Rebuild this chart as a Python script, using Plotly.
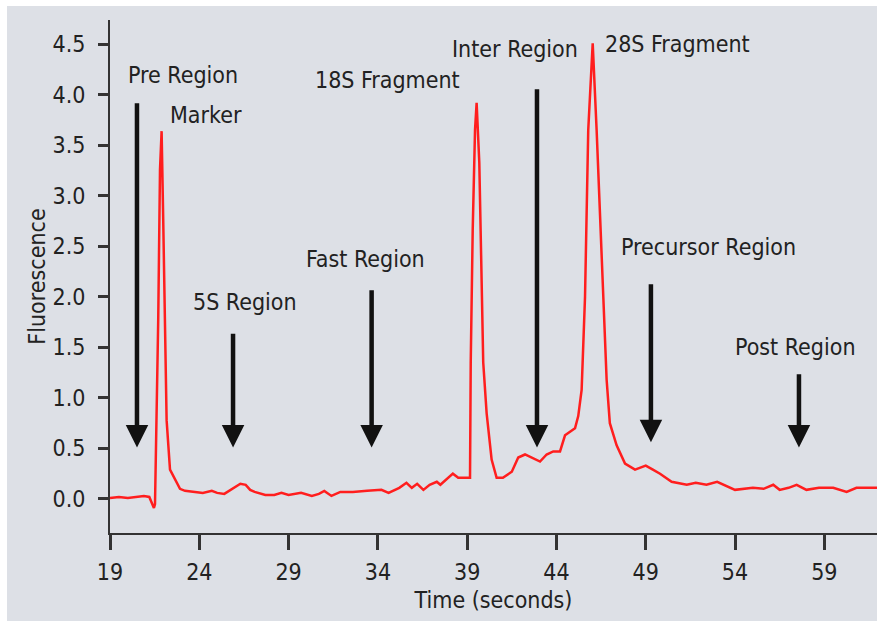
import plotly.graph_objects as go

# ---- data ----
time_s = [19.0, 19.5, 20.0, 20.5, 20.9, 21.2, 21.46, 21.52, 21.7, 21.8, 21.89, 21.98, 22.08, 22.17,
          22.36, 22.64, 22.92, 23.2, 23.7, 24.2, 24.7, 25.0, 25.4, 25.9, 26.3, 26.6, 26.85, 27.1,
          27.7, 28.2, 28.6, 29.0, 29.7, 30.3, 30.7, 31.0, 31.4, 31.9, 32.6, 33.4, 34.2, 34.6,
          35.2, 35.6, 35.9, 36.2, 36.55, 36.9, 37.3, 37.5, 37.85, 38.2, 38.5, 39.16, 39.2, 39.31,
          39.44, 39.53, 39.68, 39.81, 39.9, 40.09, 40.37, 40.65, 41.0, 41.5, 41.86, 42.24, 42.6,
          43.08, 43.45, 43.82, 44.2, 44.48, 45.04, 45.22, 45.41, 45.6, 45.78, 46.03, 46.25, 46.53,
          46.81, 46.99, 47.37, 47.84, 48.4, 48.7, 49.0, 49.4, 49.8, 50.45, 51.3, 51.8, 52.4, 53.0,
          53.5, 54.0, 55.0, 55.6, 56.14, 56.5, 57.0, 57.45, 58.0, 58.7, 59.5, 60.25, 60.8, 61.95]
fluorescence = [0.01, 0.02, 0.01, 0.02, 0.03, 0.02, -0.09, -0.05, 1.77, 3.26, 3.64, 2.76, 1.45, 0.78,
                0.29, 0.19, 0.10, 0.08, 0.07, 0.06, 0.08, 0.06, 0.05, 0.11, 0.15, 0.14, 0.09, 0.07,
                0.04, 0.04, 0.06, 0.04, 0.06, 0.03, 0.05, 0.08, 0.03, 0.07, 0.07, 0.08, 0.09, 0.06,
                0.11, 0.16, 0.11, 0.15, 0.09, 0.14, 0.17, 0.14, 0.20, 0.25, 0.21, 0.21, 1.35, 2.66,
                3.65, 3.92, 3.33, 2.34, 1.35, 0.85, 0.39, 0.21, 0.21, 0.27, 0.41, 0.44, 0.41,
                0.37, 0.44, 0.47, 0.47, 0.63, 0.70, 0.82, 1.08, 2.0, 3.65, 4.51, 3.65, 2.34,
                1.18, 0.75, 0.53, 0.35, 0.29, 0.31, 0.33, 0.29, 0.25, 0.17, 0.14, 0.16, 0.14, 0.17,
                0.13, 0.09, 0.11, 0.10, 0.14, 0.09, 0.11, 0.14, 0.09, 0.11, 0.11, 0.07, 0.11, 0.11]

x_ticks = [19, 24, 29, 34, 39, 44, 49, 54, 59]
y_ticks = [0.0, 0.5, 1.0, 1.5, 2.0, 2.5, 3.0, 3.5, 4.0, 4.5]

label_text = ["Pre Region", "Marker", "5S Region", "Fast Region", "18S Fragment",
              "Inter Region", "28S Fragment", "Precursor Region", "Post Region"]
label_x = [23.09, 24.38, 26.56, 33.28, 34.54, 41.68, 50.78, 52.54, 57.41]
label_y = [4.20, 3.80, 1.95, 2.37, 4.15, 4.45, 4.50, 2.49, 1.50]

arrow_x = [20.51, 25.89, 33.65, 42.91, 49.29, 57.58]
arrow_tail_y = [3.93, 1.65, 2.08, 4.07, 2.14, 1.25]
arrow_tip_y = [0.51, 0.51, 0.51, 0.51, 0.56, 0.51]

FONT = "Liberation Sans Narrow, DejaVu Sans Condensed, Arial Narrow, sans-serif"
TXT = "#222222"
BG = "#dde0e6"

fig = go.Figure()
fig.add_trace(go.Scatter(x=time_s, y=fluorescence, mode="lines",
                         line=dict(color="#ff1e1e", width=2.5), showlegend=False,
                         hoverinfo="skip"))

annotations = []
for t, xx, yy in zip(label_text, label_x, label_y):
    annotations.append(dict(x=xx, y=yy, xref="x", yref="y", text=t, showarrow=False,
                            xanchor="center", yanchor="middle",
                            font=dict(family=FONT, size=23, color=TXT)))
for xx, ty, hy in zip(arrow_x, arrow_tail_y, arrow_tip_y):
    annotations.append(dict(x=xx, y=hy, ax=xx, ay=ty, xref="x", yref="y", axref="x", ayref="y",
                            text="", showarrow=True, arrowhead=2, arrowsize=1,
                            arrowwidth=4.5, arrowcolor="#111111"))

fig.update_layout(
    width=877, height=621, autosize=False,
    margin=dict(l=110, r=0, t=20, b=88, pad=0),
    paper_bgcolor=BG, plot_bgcolor=BG,
    font=dict(family=FONT, size=23, color=TXT),
    annotations=annotations,
    shapes=[
        dict(type="rect", xref="paper", yref="paper", x0=-0.2, x1=1.01, y0=1.0273, y1=1.1,
             fillcolor="white", line=dict(width=0)),
        dict(type="rect", xref="paper", yref="paper", x0=-0.2, x1=-0.1343, y0=-0.3, y1=1.1,
             fillcolor="white", line=dict(width=0)),
    ],
    xaxis=dict(range=[19, 61.95], tickvals=x_ticks, ticktext=[str(v) for v in x_ticks],
               showline=True, linecolor="#333333", linewidth=2, ticks="outside",
               ticklen=15, tickwidth=3, tickcolor="#333333", showgrid=False, zeroline=False,
               tickfont=dict(family=FONT, size=23, color=TXT), ticklabelstandoff=2,
               title=dict(text="Time (seconds)", font=dict(family=FONT, size=23, color=TXT),
                          standoff=8)),
    yaxis=dict(range=[-0.337, 4.74], tickvals=y_ticks, tickformat=".1f",
               showline=True, linecolor="#333333", linewidth=2, ticks="outside",
               ticklen=10, tickwidth=3, tickcolor="#333333", showgrid=False, zeroline=False,
               tickfont=dict(family=FONT, size=23, color=TXT), ticklabelstandoff=8,
               title=dict(text="Fluorescence", font=dict(family=FONT, size=23, color=TXT),
                          standoff=0)),
)

fig.write_html("out.html")
